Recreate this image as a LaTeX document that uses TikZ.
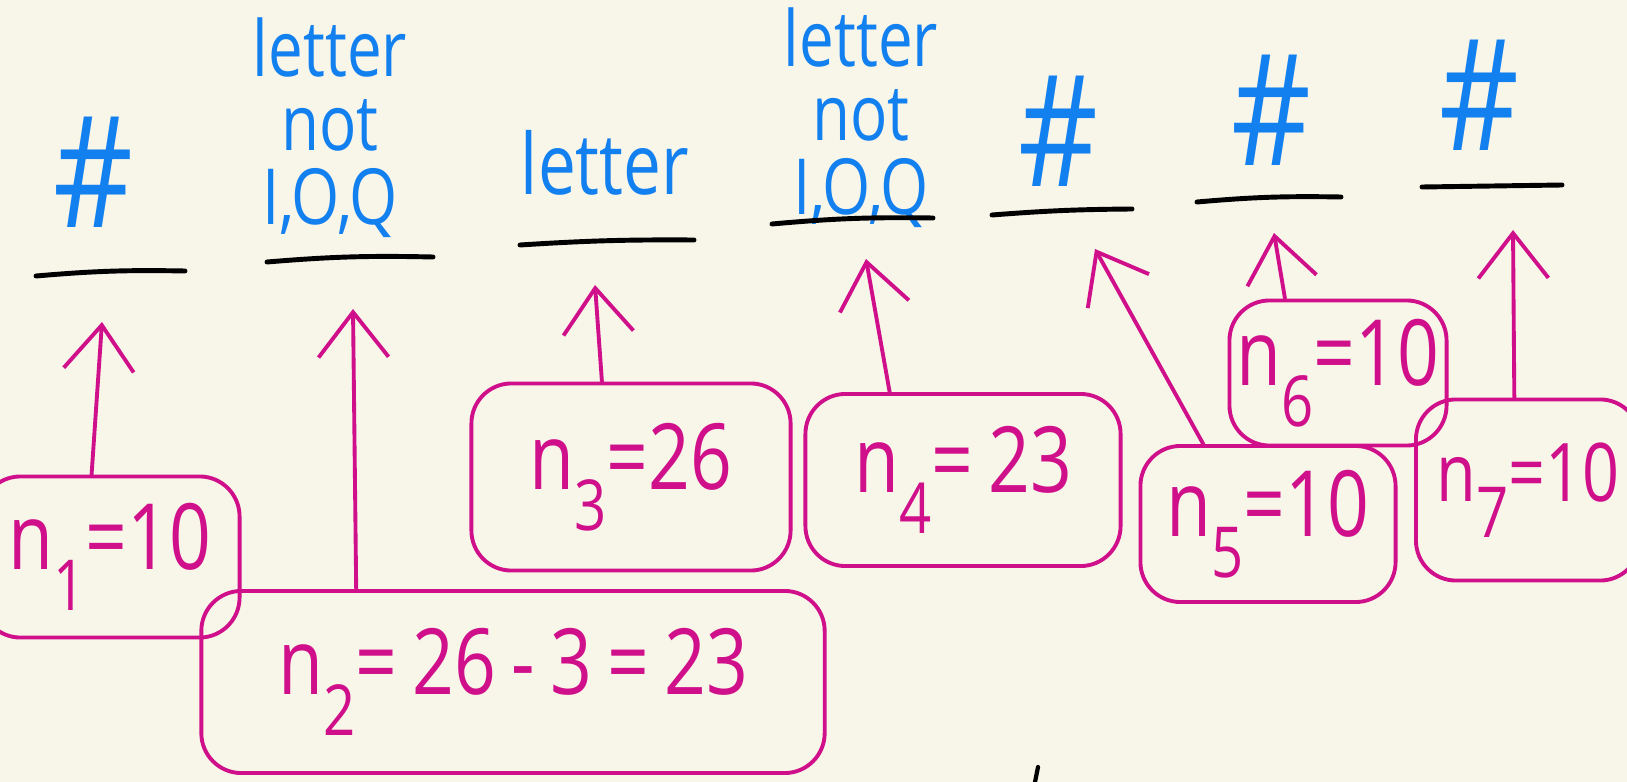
\documentclass[tikz,border=0pt]{standalone}
\usepackage{fontspec}
\newfontfamily\handfont[FakeStretch=0.8]{Open Sans}
\usetikzlibrary{arrows.meta,calc}

\definecolor{paper}{HTML}{F8F5E9}
\definecolor{inkblue}{HTML}{1380F0}
\definecolor{inkpink}{HTML}{D0108A}

\tikzset{
  slot/.style={text=inkblue, font=\handfont\fontsize{24}{22}\selectfont, align=center},
  stack/.style={slot, font=\handfont\fontsize{22}{21}\selectfont},
  hash/.style={text=inkblue, font=\handfont\fontsize{44}{44}\selectfont},
  uline/.style={line width=1.4pt, line cap=round},
  box/.style={draw=inkpink, line width=1.1pt, text=inkpink, inner sep=0pt,
    font=\handfont\fontsize{26}{26}\selectfont, rounded corners=4mm},
  arr/.style={draw=inkpink, line width=1.1pt, line cap=round,
    -{Straight Barb[length=4.5mm, width=7mm]}},
}
\newcommand{\nidx}[2]{n\raisebox{-0.45em}{\fontsize{20}{20}\selectfont#1}=#2}

\begin{document}
\begin{tikzpicture}[x=0.01cm, y=-0.01cm]
  \fill[paper] (0,0) rectangle (1627,782);
  \useasboundingbox (0,0) rectangle (1627,782);

  % the seven slots
  \node[hash]  (l1) at (93,172)  {\#};
  \node[stack] (l2) at (330,128) {letter\\not\\I,O,Q};
  \node[slot]  (l3) at (605,163) {letter};
  \node[stack] (l4) at (861,118) {letter\\not\\I,O,Q};
  \node[hash]  (l5) at (1058,131) {\#};
  \node[hash]  (l6) at (1271,110) {\#};
  \node[hash]  (l7) at (1479,95)  {\#};

  \draw[uline] (36,276) to[bend left=3] (185,271);
  \draw[uline] (267,262) to[bend left=3] (433,257);
  \draw[uline] (520,245) to[bend left=2] (694,240);
  \draw[uline] (772,224) to[bend left=3] (933,218);
  \draw[uline] (992,215) to[bend left=2] (1132,209);
  \draw[uline] (1197,202) to[bend left=3] (1341,197);
  \draw[uline] (1422,187) -- (1562,185);

  \coordinate (t1) at (102,322);
  \coordinate (t2) at (353,309);
  \coordinate (t3) at (595,285);
  \coordinate (t4) at (866,259);
  \coordinate (t5) at (1095,249);
  \coordinate (t6) at (1274,233);
  \coordinate (t7) at (1513,230);

  % counts
  \node[box, minimum width=2.59cm, minimum height=1.61cm] (n1) at (110,557) {\nidx{1}{10}};
  \node[box, minimum width=6.23cm, minimum height=1.82cm] (n2) at (513,682) {\nidx{2}{\,26\,-\,3\,=\,23}};
  \node[box, minimum width=3.19cm, minimum height=1.87cm] (n3) at (631,477) {\nidx{3}{26}};
  \node[box, minimum width=3.15cm, minimum height=1.72cm] (n4) at (963,480) {\nidx{4}{\,23}};
  \node[box, minimum width=2.55cm, minimum height=1.56cm] (n5) at (1268,524) {\nidx{5}{10}};
  \node[box, minimum width=2.17cm, minimum height=1.45cm] (n6) at (1338,373) {\nidx{6}{10}};
  \node[box, minimum width=2.24cm, minimum height=1.81cm, font=\handfont\fontsize{23}{23}\selectfont]
    (n7) at (1528,490) {\nidx{7}{10}\hspace{5mm}};

  \draw[arr] ($(n1.north west)!.43!(n1.north east)$) -- (t1);
  \draw[arr] ($(n2.north west)!.25!(n2.north east)$) -- (t2);
  \draw[arr] ($(n3.north west)!.41!(n3.north east)$) -- (t3);
  \draw[arr] ($(n4.north west)!.27!(n4.north east)$) -- (t4);
  \draw[arr] ($(n5.north west)!.25!(n5.north east)$) -- (t5);
  \draw[arr] ($(n6.north west)!.26!(n6.north east)$) -- (t6);
  \draw[arr] ($(n7.north west)!.44!(n7.north east)$) -- (t7);

  \draw[uline, line width=1.2pt] (1038,767) -- (1035,782);
\end{tikzpicture}
\end{document}
